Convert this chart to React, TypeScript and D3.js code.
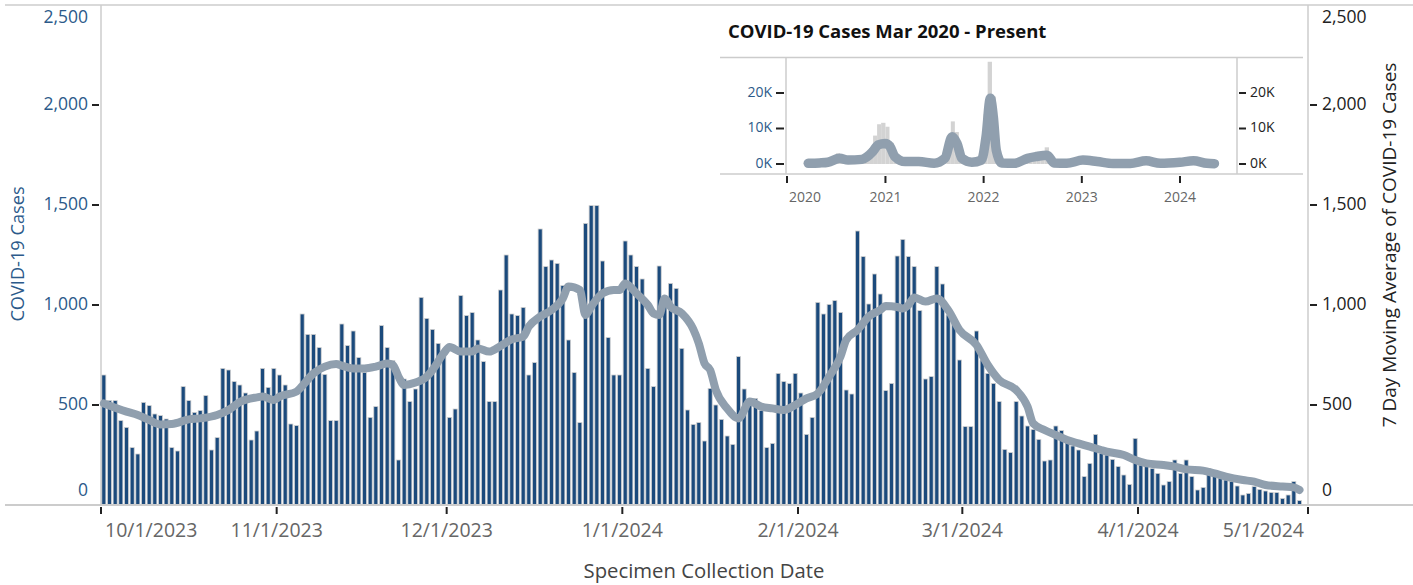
import React from "react";
import * as d3 from "d3";

// ---------- main chart data ----------
const startDate = "2023-10-01";
const dailyCases = [
  650, 522, 522, 422, 388, 287, 255, 513, 497, 455,
  447, 430, 287, 270, 592, 522, 463, 472, 547, 275,
  337, 683, 675, 617, 600, 560, 325, 370, 683, 588,
  683, 650, 600, 405, 397, 955, 853, 853, 787, 653,
  422, 422, 905, 797, 870, 737, 663, 438, 492, 897,
  787, 722, 225, 630, 517, 580, 1038, 933, 878, 808,
  758, 438, 480, 1047, 947, 962, 825, 717, 517, 517,
  1075, 1250, 955, 947, 988, 650, 712, 1380, 1192, 1225,
  1208, 1097, 825, 662, 412, 1408, 1497, 1497, 1220, 837,
  650, 650, 1320, 1250, 1192, 1130, 683, 592, 1195, 1000,
  1108, 1083, 783, 475, 403, 412, 320, 583, 500, 428,
  345, 303, 742, 580, 525, 533, 472, 287, 308, 658,
  617, 608, 658, 560, 353, 438, 1013, 955, 1003, 1022,
  963, 575, 555, 1370, 1242, 1005, 1155, 1055, 572, 608,
  1245, 1328, 1242, 1192, 972, 630, 642, 1192, 1105, 950,
  925, 725, 392, 392, 870, 725, 658, 608, 517, 278,
  262, 517, 445, 395, 378, 328, 220, 225, 395, 372,
  328, 295, 275, 142, 208, 353, 258, 250, 228, 192,
  150, 103, 333, 200, 195, 183, 158, 100, 117, 225,
  158, 225, 142, 75, 88, 183, 142, 133, 125, 117,
  95, 50, 58, 92, 78, 70, 63, 62, 33, 50,
  117, 22,
];
const maDay = [
  0, 4, 6, 8, 10, 12, 15, 17, 20, 22, 24, 27, 28, 30, 31, 34, 35, 37, 39, 41,
  42, 44, 46, 48, 50, 51, 52, 53, 55, 57, 58, 60, 61, 63, 65, 66, 68, 70, 72, 74,
  75, 77, 79, 81, 82, 84, 85, 86, 88, 90, 91, 92, 94, 96, 97, 98, 99, 100, 102, 104,
  105, 106, 107, 108, 110, 112, 114, 116, 118, 120, 122, 124, 126, 128, 130, 131, 133, 135, 137, 138,
  140, 141, 142, 143, 145, 147, 149, 151, 154, 156, 158, 161, 163, 164, 166, 168, 170, 172, 174, 176,
  177, 180, 182, 184, 187, 189, 191, 194, 196, 198, 201, 203, 205, 208, 210, 211,
];
const maValue = [
  508, 467, 450, 425, 403, 405, 428, 433, 450, 475, 515, 538, 542, 525, 542, 567, 595, 658, 692, 705,
  697, 683, 683, 692, 708, 700, 642, 600, 612, 642, 675, 760, 790, 767, 767, 783, 767, 795, 828, 842,
  892, 942, 975, 1033, 1092, 1075, 950, 992, 1058, 1075, 1075, 1108, 1058, 1000, 958, 950, 1033, 992, 958, 880,
  808, 708, 675, 575, 483, 433, 517, 492, 483, 475, 500, 533, 558, 642, 742, 825, 875, 942, 975, 995,
  990, 983, 1000, 1038, 1017, 1033, 975, 875, 800, 700, 625, 575, 492, 408, 375, 350, 325, 308, 292, 275,
  267, 250, 225, 208, 200, 192, 178, 172, 158, 142, 125, 117, 100, 92, 88, 75,
];
const yTicks = [0, 500, 1000, 1500, 2000, 2500];
const xTickDates = ["2023-10-01", "2023-11-01", "2023-12-01", "2024-01-01", "2024-02-01", "2024-03-01", "2024-04-01", "2024-05-01"];
const xTickLabels = ["10/1/2023", "11/1/2023", "12/1/2023", "1/1/2024", "2/1/2024", "3/1/2024", "4/1/2024", "5/1/2024"];

// ---------- inset data (half-month bins from Mar 2020) ----------
const insetBarValues = [
  150, 350, 500, 550, 450, 450, 700, 1300, 3000, 2600, 1500, 1100, 900, 1100, 1500, 2200, 4500, 8000, 11200, 11600,
  10500, 6000, 2600, 1300, 900, 800, 900, 800, 700, 500, 300, 300, 500, 1300, 3200, 6500, 12000, 9000, 4000, 1500, 800, 700, 900, 2000,
  14000, 28800, 19000, 4500, 1100, 500, 400, 500, 900, 1400, 2000, 2300, 2700, 2600, 3600, 4700, 2800, 800, 500, 400, 400, 700, 1300, 1600,
  1400, 900, 800, 800, 700, 500, 300, 200, 200, 200, 200, 200, 300, 400, 900, 1100, 900, 600, 500, 400, 500, 600, 800, 1100,
  1200, 900, 1000, 900, 500, 300, 200, 100,
];
const insetMaDates = [
  "2020-03-20", "2020-05-01", "2020-06-01", "2020-07-15", "2020-08-15", "2020-10-05", "2020-11-15", "2020-12-05", "2020-12-31",
  "2021-01-18", "2021-02-05", "2021-03-15", "2021-05-05", "2021-07-01", "2021-08-10", "2021-09-06", "2021-09-24", "2021-10-12",
  "2021-11-18", "2021-12-24", "2022-01-10", "2022-01-26", "2022-02-06", "2022-02-17", "2022-03-10", "2022-04-26", "2022-06-13",
  "2022-07-15", "2022-08-25", "2022-09-20", "2022-11-06", "2023-01-05", "2023-02-27", "2023-04-27", "2023-06-30", "2023-08-28",
  "2023-10-20", "2024-01-01", "2024-02-20", "2024-04-10", "2024-05-08",
];
const insetMaValues = [
  200, 300, 500, 1600, 1100, 1300, 3500, 5400, 5800,
  4900, 2100, 700, 700, 200, 1600, 7700, 5800, 1600,
  500, 1100, 7700, 18500, 13300, 3900, 300, 200, 1600,
  2100, 2500, 300, 200, 1100, 700, 150, 150, 900,
  200, 500, 900, 200, 100,
];
const insetYTicks = [0, 10000, 20000];
const insetYLabels = ["0K", "10K", "20K"];
const insetXYears = ["2020", "2021", "2022", "2023", "2024"];

const FONT = "'Open Sans', sans-serif";
const BAR = "#1B4A7C";
const LINE = "#909FAE";
const BLUE_TXT = "#2C5A8A";
const GRID = "#cccccc";

const utc = (s: string) => new Date(s + "T00:00:00Z");

export default function App() {
  const W = 1413, H = 585;
  const L = 101, R = 1308, T = 5, B = 505;
  const start = utc(startDate);
  const x = d3.scaleUtc().domain([utc("2023-10-01"), utc("2024-05-01")]).range([L, R]);
  const y = d3.scaleLinear().domain([0, 2500]).range([B, T]);

  const bars = dailyCases.map((v, i) => {
    const d0 = d3.utcDay.offset(start, i);
    const d1 = d3.utcDay.offset(start, i + 1);
    const x0 = x(d0), x1 = x(d1);
    return { x: x0 + 0.8, w: x1 - x0 - 1.6, y: y(v), h: B - y(v) };
  });
  const maPts = maDay.map((d, i) => ({ d: d3.utcHour.offset(d3.utcDay.offset(start, d), 12), v: maValue[i] }));
  const maPath = d3.line<any>().x((p) => x(p.d)).y((p) => y(p.v)).curve(d3.curveMonotoneX)(maPts) || "";

  // inset
  const ix = d3.scaleUtc().domain([utc("2020-01-01"), utc("2024-01-01")]).range([787, 1180]);
  const iy = d3.scaleLinear().domain([0, 30000]).range([164, 57.5]);
  const iBars = insetBarValues.map((v, k) => {
    const m = 2 + Math.floor(k / 2);
    const half = k % 2;
    const s = new Date(Date.UTC(2020, m, half ? 16 : 1));
    const e = half ? new Date(Date.UTC(2020, m + 1, 1)) : new Date(Date.UTC(2020, m, 16));
    return { x: ix(s), w: ix(e) - ix(s), y: iy(v), h: iy(0) - iy(v) };
  });
  const iMaPts = insetMaDates.map((s, i) => ({ d: utc(s), v: insetMaValues[i] }));
  const iMaPath = d3.line<any>().x((p) => ix(p.d)).y((p) => iy(p.v)).curve(d3.curveMonotoneX)(iMaPts) || "";

  const clampY = (v: number) => Math.max(T + 13, Math.min(B - 14, v));

  return (
    <svg width={W} height={H} style={{ position: "fixed", left: 0, top: 0, background: "#fff" }} fontFamily={FONT}>
      <rect x={0} y={0} width={W} height={H} fill="#fff" />
      {/* frame */}
      <line x1={5} x2={W} y1={T} y2={T} stroke={GRID} strokeWidth={1.5} />
      <line x1={L} x2={L} y1={T} y2={B} stroke={GRID} strokeWidth={1.5} />
      <line x1={R} x2={R} y1={T} y2={B} stroke={GRID} strokeWidth={1.5} />

      {/* bars */}
      {bars.map((b, i) => (
        <rect key={i} x={b.x} y={b.y} width={b.w} height={b.h} fill={BAR} stroke="#d0d0d0" strokeWidth={0.8} />
      ))}
      {/* moving average */}
      <path d={maPath} fill="none" stroke={LINE} strokeWidth={8} strokeLinecap="round" strokeLinejoin="round" />

      <line x1={5} x2={W} y1={B} y2={B} stroke={GRID} strokeWidth={2} />

      {/* y ticks */}
      {yTicks.map((t) => (
        <g key={t}>
          {t > 0 && t < 2500 && (
            <>
              <line x1={92} x2={99} y1={y(t)} y2={y(t)} stroke="#222" strokeWidth={2} />
              <line x1={1310} x2={1317} y1={y(t)} y2={y(t)} stroke="#222" strokeWidth={2} />
            </>
          )}
          <text x={88} y={clampY(y(t))} textAnchor="end" dominantBaseline="middle" fontSize={17.5} fill={BLUE_TXT}>
            {d3.format(",")(t)}
          </text>
          <text x={1322} y={clampY(y(t))} textAnchor="start" dominantBaseline="middle" fontSize={17.5} fill="#222">
            {d3.format(",")(t)}
          </text>
        </g>
      ))}

      {/* x ticks */}
      {xTickDates.map((s, i) => {
        const px = x(utc(s));
        const half = 48;
        let anchor: any = "middle", tx = px;
        if (px - half < L) { anchor = "start"; tx = L + 4; }
        else if (px + half > R) { anchor = "end"; tx = R - 4; }
        return (
          <g key={s}>
            <line x1={px} x2={px} y1={507} y2={514} stroke="#222" strokeWidth={2} />
            <text x={tx} y={532} textAnchor={anchor} dominantBaseline="middle" fontSize={19.5} fill="#666">
              {xTickLabels[i]}
            </text>
          </g>
        );
      })}

      {/* axis titles */}
      <text transform={`translate(19,254) rotate(-90)`} textAnchor="middle" dominantBaseline="middle" fontSize={18.2} fill={BLUE_TXT}>
        COVID-19 Cases
      </text>
      <text transform={`translate(1391,245) rotate(-90)`} textAnchor="middle" dominantBaseline="middle" fontSize={19} fill="#222">
        7 Day Moving Average of COVID-19 Cases
      </text>
      <text x={704} y={573} textAnchor="middle" dominantBaseline="middle" fontSize={20.3} fill="#444">
        Specimen Collection Date
      </text>

      {/* inset */}
      <g>
        <text x={728} y={38} fontSize={18.5} fontWeight="bold" fill="#111">COVID-19 Cases Mar 2020 - Present</text>
        <line x1={720} x2={1303} y1={57.5} y2={57.5} stroke={GRID} strokeWidth={1.5} />
        <line x1={720} x2={1303} y1={174} y2={174} stroke={GRID} strokeWidth={1.5} />
        <line x1={786} x2={786} y1={57.5} y2={174} stroke={GRID} strokeWidth={1.5} />
        <line x1={1237} x2={1237} y1={57.5} y2={174} stroke={GRID} strokeWidth={1.5} />
        {iBars.map((b, i) => (
          <rect key={i} x={b.x} y={b.y} width={b.w} height={b.h} fill="#d3d3d3" />
        ))}
        <path d={iMaPath} fill="none" stroke={LINE} strokeWidth={9.5} strokeLinecap="round" strokeLinejoin="round" />
        {insetYTicks.map((t, i) => (
          <g key={t}>
            <line x1={776} x2={784} y1={iy(t)} y2={iy(t)} stroke="#222" strokeWidth={2} />
            <line x1={1239} x2={1246} y1={iy(t)} y2={iy(t)} stroke="#222" strokeWidth={2} />
            <text x={772} y={iy(t)} textAnchor="end" dominantBaseline="middle" fontSize={14} fill={BLUE_TXT}>{insetYLabels[i]}</text>
            <text x={1250} y={iy(t)} textAnchor="start" dominantBaseline="middle" fontSize={14} fill="#222">{insetYLabels[i]}</text>
          </g>
        ))}
        {insetXYears.map((yr, i) => {
          const px = ix(utc(yr + "-01-01"));
          const lx = i === 0 ? Math.max(px, 788 + 17) : px;
          return (
            <g key={yr}>
              <line x1={px} x2={px} y1={176} y2={183} stroke="#222" strokeWidth={2} />
              <text x={lx} y={198} textAnchor="middle" dominantBaseline="middle" fontSize={14} fill="#666">{yr}</text>
            </g>
          );
        })}
      </g>
    </svg>
  );
}
